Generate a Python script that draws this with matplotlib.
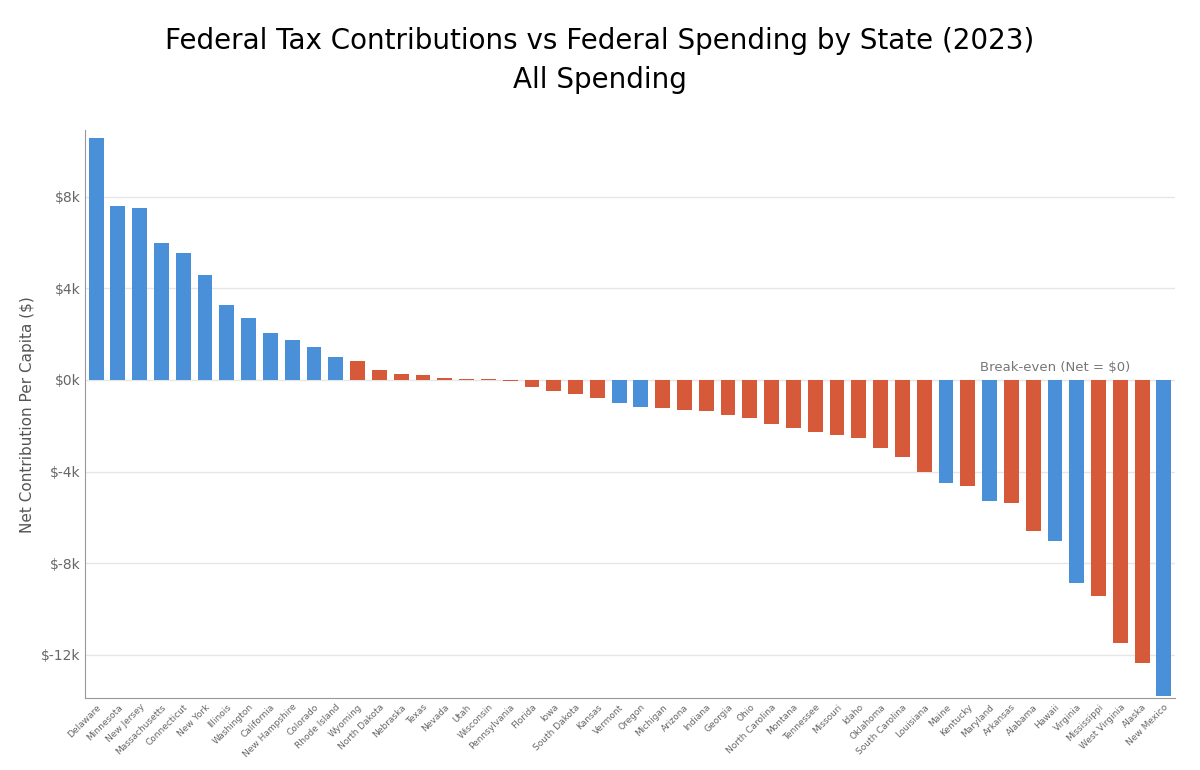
import matplotlib.pyplot as plt
from matplotlib.ticker import FuncFormatter

states = ["Delaware", "Minnesota", "New Jersey", "Massachusetts", "Connecticut", "New York",
          "Illinois", "Washington", "California", "New Hampshire", "Colorado", "Rhode Island",
          "Wyoming", "North Dakota", "Nebraska", "Texas", "Nevada", "Utah", "Wisconsin",
          "Pennsylvania", "Florida", "Iowa", "South Dakota", "Kansas", "Vermont", "Oregon",
          "Michigan", "Arizona", "Indiana", "Georgia", "Ohio", "North Carolina", "Montana",
          "Tennessee", "Missouri", "Idaho", "Oklahoma", "South Carolina", "Louisiana", "Maine",
          "Kentucky", "Maryland", "Arkansas", "Alabama", "Hawaii", "Virginia", "Mississippi",
          "West Virginia", "Alaska", "New Mexico"]
net_k = [10.57, 7.6, 7.48, 5.96, 5.52, 4.57, 3.26, 2.7, 2.04, 1.74, 1.43, 1.0,
         0.83, 0.43, 0.26, 0.22, 0.08, 0.05, 0.02, -0.05, -0.3, -0.48, -0.6, -0.78,
         -1.0, -1.17, -1.22, -1.3, -1.35, -1.52, -1.65, -1.91, -2.09, -2.26, -2.39,
         -2.52, -2.96, -3.35, -4.0, -4.48, -4.65, -5.3, -5.39, -6.6, -7.04, -8.87,
         -9.43, -11.48, -12.35, -13.78]
blue_states = ["Delaware", "Minnesota", "New Jersey", "Massachusetts", "Connecticut", "New York",
               "Illinois", "Washington", "California", "New Hampshire", "Colorado", "Rhode Island",
               "Vermont", "Oregon", "Maine", "Maryland", "Hawaii", "Virginia", "New Mexico"]

colors = ["#4A90D9" if s in blue_states else "#D65A3A" for s in states]

fig = plt.figure(figsize=(12, 7.7), dpi=100)
ax = fig.add_axes([0.071, 0.093, 0.908, 0.738])
x = range(len(states))
ax.bar(x, net_k, width=0.68, color=colors, zorder=3)

ax.set_xlim(-0.5, len(states) - 0.5)
ax.set_ylim(-13.9, 10.9)
ax.set_yticks([-12, -8, -4, 0, 4, 8])
ax.yaxis.set_major_formatter(FuncFormatter(lambda v, p: "$%dk" % v))
ax.grid(axis="y", color="#e6e6e6", linewidth=1, zorder=0)
ax.set_xticks(list(x))
ax.set_xticklabels(states, rotation=45, ha="right", rotation_mode="anchor",
                   fontsize=6.5, color="#666666")
ax.tick_params(axis="y", labelsize=10, colors="#666666", length=0)
ax.tick_params(axis="x", length=0, pad=3)
for side in ["top", "right"]:
    ax.spines[side].set_visible(False)
ax.spines["left"].set_color("#999999")
ax.spines["bottom"].set_color("#999999")
ax.set_ylabel("Net Contribution Per Capita ($)", fontsize=11, color="#555555")
ax.text(44.0, 0.25, "Break-even (Net = $0)", fontsize=9.5, color="#777777", ha="center", va="bottom")

fig.suptitle("Federal Tax Contributions vs Federal Spending by State (2023)\nAll Spending",
             fontsize=20, y=0.965, linespacing=1.5)
fig.savefig("out.png")
